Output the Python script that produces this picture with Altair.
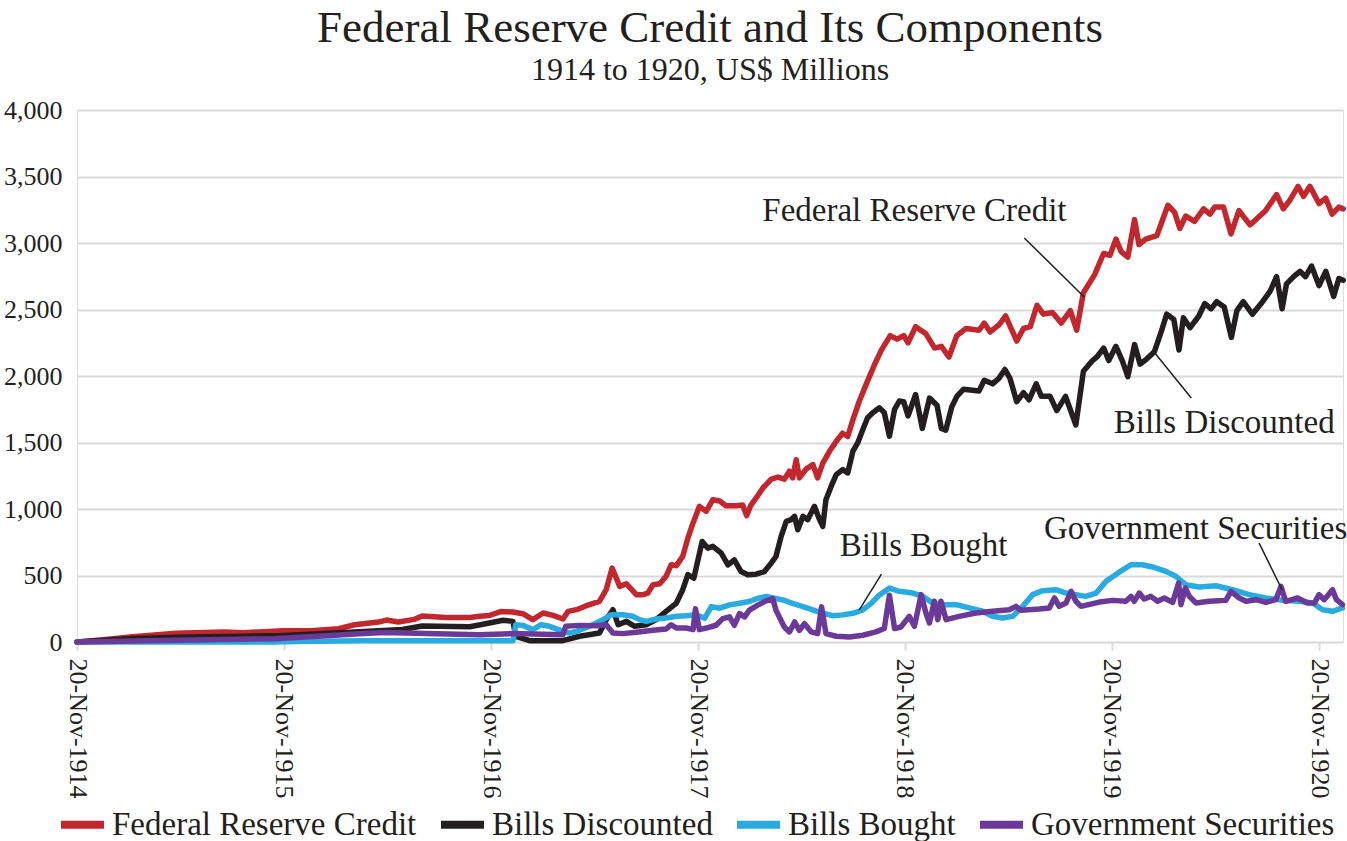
import altair as alt
import numpy as np
import pandas as pd

# x positions are weeks after 20-Nov-1914, values are US$ millions
frc_points = [
    (0, 0), (6, 15), (14, 40), (25, 65), (37, 75), (42, 70), (52, 85), (59, 85), (66, 100), (70, 130),
    (76, 150), (78, 165), (81, 150), (85, 170), (87, 195), (93, 185), (99, 185),
    (101.5, 193), (104, 200), (107, 230), (109.9, 225), (112.4, 213), (114.9, 168), (117.5, 218), (120, 200),
    (122.5, 173), (123.8, 230), (125.9, 243), (128.4, 273), (131.7, 306), (133.4, 393), (134.9, 556),
    (136.8, 418), (138.5, 438), (141, 356), (142.7, 356), (143.9, 368), (145.2, 431), (146.9, 438),
    (148.5, 494), (149.8, 581), (151.1, 574), (152.7, 644), (154, 782), (155.3, 895), (156.9, 1020),
    (158.6, 982), (160.3, 1070), (162, 1060), (163.6, 1025), (166.2, 1025), (167.8, 1030), (168.8, 950),
    (169.9, 1030), (171.2, 1083), (172.9, 1158), (175, 1224), (176.7, 1240), (178.3, 1224), (179.6, 1284),
    (180.4, 1234), (181.3, 1370), (182.1, 1234), (183.8, 1300), (185.5, 1334), (186.7, 1234), (188, 1345),
    (189.7, 1434), (191.4, 1510), (193, 1570), (194.3, 1545), (195.6, 1672), (197.2, 1810), (198.9, 1935),
    (201.1, 2089), (202.8, 2196), (205, 2304), (206.7, 2277), (208.4, 2304), (209.5, 2250), (211.4, 2371),
    (214, 2317), (216.2, 2210), (217.9, 2223), (219.8, 2143), (221.8, 2304), (224.1, 2357), (227.4, 2344),
    (228.7, 2398), (230.2, 2331), (232.4, 2384), (234.1, 2451), (235.5, 2357), (236.9, 2263), (238.6, 2357),
    (240.3, 2371), (242, 2532), (243.6, 2465), (245.9, 2478), (248.1, 2398), (250.4, 2492), (252, 2344),
    (253.7, 2626), (256.5, 2760), (258.8, 2921), (260.4, 2908), (261.9, 3029), (263.2, 2935), (264.9, 2894),
    (266.6, 3176), (267.7, 2988), (269.4, 3029), (272.2, 3055), (275, 3284), (276.7, 3230), (278, 3109),
    (279.5, 3203), (281.7, 3163), (284, 3257), (285.6, 3217), (286.8, 3270), (289, 3270), (290.9, 3069),
    (292.9, 3243), (295.7, 3136), (299.6, 3243), (302.4, 3364), (304.1, 3257), (305.8, 3324), (307.8, 3426),
    (309.2, 3351), (310.8, 3426), (313.1, 3297), (314.8, 3337), (316.4, 3217), (318.1, 3270), (319.2, 3257),
]

bd_points = [
    (0, 0), (14, 27), (25, 35), (52, 48), (70, 75), (82, 94), (87, 120), (99, 115), (103, 137),
    (107.4, 163), (109.9, 155), (110.6, 43), (114.1, 10), (122.5, 10), (126.7, 43), (131.7, 68),
    (133.4, 168), (135.1, 243), (136.4, 130), (138.5, 155), (140.6, 118), (143.5, 130), (146, 168),
    (148.5, 230), (151.1, 293), (152.7, 393), (154, 506), (155.5, 480), (157.6, 756), (159, 706),
    (160.3, 719), (162.4, 668), (164.1, 580), (165.7, 618), (167.4, 530), (169.1, 505), (171.2, 510),
    (173.3, 530), (175, 593), (176.2, 643), (177.5, 794), (178.8, 907), (180, 920), (180.9, 945),
    (181.7, 844), (183, 945), (184.2, 920), (185.9, 1020), (187.2, 920), (188, 869), (188.8, 1070),
    (190.1, 1170), (191.4, 1259), (193, 1296), (194.3, 1271), (195.6, 1435), (196.8, 1497), (198.1, 1598),
    (199.3, 1686), (200.6, 1724), (202.3, 1761), (203.5, 1724), (204.8, 1548), (206.1, 1749), (207.3, 1812),
    (208.4, 1807), (209.5, 1700), (211.4, 1861), (213.1, 1606), (214.9, 1834), (216.8, 1780), (217.9, 1606),
    (219, 1592), (220.5, 1767), (221.8, 1847), (223.5, 1901), (227.4, 1888), (228.7, 1968), (230.8, 1941),
    (232.4, 1982), (233.9, 2049), (235.2, 1982), (236.9, 1807), (238.6, 1874), (240, 1820), (241.8, 1941),
    (243.1, 1847), (245.3, 1847), (247, 1740), (249.2, 1847), (251.8, 1632), (253.7, 2035), (256, 2116),
    (257.1, 2143), (258.8, 2210), (260.1, 2116), (261.9, 2223), (263.5, 2116), (264.9, 1995), (266.6, 2237),
    (268, 2089), (269.7, 2129), (271.6, 2183), (273.3, 2331), (274.7, 2465), (276.5, 2425), (277.8, 2196),
    (278.9, 2438), (280.6, 2363), (282.8, 2451), (284.3, 2545), (285.9, 2505), (287.3, 2559), (289.2, 2519),
    (291, 2290), (292.4, 2492), (294, 2559), (296.3, 2465), (298.5, 2545), (300.8, 2639), (302.4, 2747),
    (303.8, 2505), (304.9, 2693), (306.7, 2747), (308.3, 2787), (309.7, 2747), (311.2, 2827), (313.1, 2680),
    (314.8, 2787), (316.8, 2599), (318.1, 2733), (319.2, 2720),
]

bb_points = [
    (0, 0), (50, 0), (55, 3), (72, 10), (109.9, 10), (110.6, 130), (112.4, 125), (114.9, 93), (117, 130),
    (119.1, 118), (122.5, 80), (124.2, 68), (125.9, 80), (129.2, 118), (132.6, 168), (134.7, 205),
    (137.6, 205), (140.1, 193), (141.8, 168), (143.5, 155), (146, 173), (148.5, 180), (151.1, 193),
    (153.6, 198), (156.1, 205), (158.2, 178), (159.9, 266), (162, 254), (164.5, 279), (167, 291),
    (169.5, 304), (171.6, 329), (173.7, 342), (175.8, 329), (177.9, 317), (180.4, 291), (183, 266),
    (185.5, 241), (188, 216), (190.5, 198), (193, 204), (195.6, 216), (198.1, 241), (200.2, 291),
    (202.3, 354), (204.8, 405), (207.3, 381), (210.7, 368), (213.2, 343), (215.7, 293), (218.2, 281),
    (221.6, 281), (224.9, 256), (228.3, 231), (230.8, 193), (233.3, 180), (235.9, 193), (238.4, 268),
    (240.9, 356), (243.4, 386), (246.8, 393), (249.3, 368), (251.8, 356), (254.3, 343), (256.9, 368),
    (259.4, 456), (262.7, 525), (265.7, 581), (268.6, 581), (271.1, 564), (274.5, 531), (277, 494),
    (279.5, 431), (282.9, 413), (287.1, 423), (291.3, 393), (295.5, 356), (299.7, 331), (303.9, 313),
    (308.1, 306), (311.5, 293), (314, 243), (316.5, 231), (319, 256),
]

gs_points = [
    (0, 0), (25, 13), (50, 25), (72.3, 64), (77.5, 71), (101.5, 55), (109.9, 63), (122.5, 55), (123.2, 118),
    (126.7, 125), (130.9, 122), (133.4, 130), (135.1, 68), (137.6, 63), (141, 73), (145.2, 88), (148.5, 98),
    (149.8, 130), (151.1, 105), (153.6, 105), (155.3, 93), (155.9, 250), (156.9, 93), (158.6, 105),
    (161.1, 126), (162.8, 176), (164.5, 189), (165.7, 126), (167, 214), (168.3, 189), (169.5, 239),
    (171.6, 277), (173.7, 309), (175.4, 327), (176.2, 239), (178.3, 113), (179.6, 76), (180.9, 151),
    (182.1, 88), (183.4, 138), (185.1, 76), (186.7, 63), (187.7, 264), (188.8, 63), (191.4, 43),
    (194.7, 38), (198.1, 51), (201.4, 76), (203.5, 101), (204.8, 352), (206.1, 101), (207.7, 113),
    (209.8, 193), (211.1, 118), (212.8, 356), (214, 218), (214.9, 143), (216.1, 306), (217, 168),
    (217.8, 306), (219.1, 168), (222.4, 193), (226.6, 218), (230.8, 231), (235, 243), (236.7, 268),
    (238, 238), (242.6, 248), (245.1, 256), (246.4, 331), (247.6, 268), (249.3, 293), (250.6, 381),
    (251.8, 306), (253.1, 268), (257.7, 300), (261.1, 313), (264.4, 306), (265.7, 343), (266.5, 306),
    (267.8, 368), (269, 323), (270.7, 343), (272.4, 306), (274.1, 331), (276.2, 298), (277.7, 444),
    (278.3, 281), (279.4, 406), (280.4, 343), (282.1, 293), (285.4, 306), (289.6, 313), (290.9, 381),
    (293, 331), (294.7, 306), (297.2, 318), (299.7, 298), (302.2, 318), (303.5, 418), (304.7, 306),
    (307.7, 331), (310.2, 293), (311.9, 293), (313.1, 356), (314.4, 318), (316.5, 393), (317.5, 318),
    (319, 281),
]

series_names = ["Federal Reserve Credit", "Bills Discounted", "Bills Bought", "Government Securities"]
series_colors = ["#C1272D", "#231F20", "#29ABE2", "#6B3A98"]
tick_years = [1914, 1915, 1916, 1917, 1918, 1919, 1920]

# annotation labels: text, week, value (baseline)
label_texts = ["Federal Reserve Credit", "Bills Discounted", "Bills Bought", "Government Securities"]
label_weeks = [211.1, 289.2, 213.4, 282.0]
label_values = [3165, 1575, 650, 775]
# leader lines: from (week1, value1) to (week2, value2)
leader_w1 = [238.8, 271.5, 202.8, 298.0]
leader_v1 = [3038, 2181, 511, 744]
leader_w2 = [253.9, 280.9, 197.2, 303.8]
leader_v2 = [2594, 1835, 241, 391]

START = pd.Timestamp("1914-11-20")


def week_to_date(w):
    return START + pd.to_timedelta(np.asarray(w, dtype=float) * 7, unit="D")


frames = []
for name, pts in zip(series_names, [frc_points, bd_points, bb_points, gs_points]):
    w = [p[0] for p in pts]
    v = [p[1] for p in pts]
    frames.append(pd.DataFrame({"date": week_to_date(w), "value": v, "series": name}))
lines_df = pd.concat(frames, ignore_index=True)

labels_df = pd.DataFrame({"date": week_to_date(label_weeks), "value": label_values, "text": label_texts})
leaders_df = pd.DataFrame({
    "date": week_to_date(leader_w1), "value": leader_v1,
    "date2": week_to_date(leader_w2), "value2": leader_v2,
})

FONT = "Liberation Serif"
TEXT = "#231F20"
GRID = "#D9D9D9"

x_scale = alt.Scale(domain=[alt.DateTime(year=1914, month=11, date=20), alt.DateTime(year=1921, month=1, date=1)])
y_scale = alt.Scale(domain=[0, 4000], nice=False)

x_axis = alt.Axis(
    values=[alt.DateTime(year=y, month=11, date=20) for y in tick_years],
    format="%d-%b-%Y", labelAngle=90, labelAlign="left", labelBaseline="middle",
    labelFont=FONT, labelFontSize=26, labelColor=TEXT, labelPadding=8,
    grid=False, domain=False, ticks=True, tickColor=GRID, tickWidth=2, tickSize=8,
    title=None, labelOverlap=False,
)
y_axis = alt.Axis(
    values=list(range(0, 4001, 500)), format=",.0f", labelFont=FONT, labelFontSize=26,
    labelColor=TEXT, labelPadding=15, grid=True, gridColor=GRID, gridWidth=2,
    domain=False, ticks=False, title=None,
)

lines = alt.Chart(lines_df).mark_line(strokeWidth=5.5, strokeJoin="round", strokeCap="round").encode(
    x=alt.X("date:T", scale=x_scale, axis=x_axis),
    y=alt.Y("value:Q", scale=y_scale, axis=y_axis),
    color=alt.Color(
        "series:N", sort=series_names,
        scale=alt.Scale(domain=series_names, range=series_colors),
        legend=alt.Legend(
            orient="none", legendX=-20, legendY=689, direction="horizontal", title=None,
            symbolType="stroke", symbolSize=1849, symbolStrokeWidth=8,
            labelFont=FONT, labelFontSize=33, labelColor=TEXT, labelOffset=4,
            labelLimit=500, columnPadding=8,
        ),
    ),
)

leaders = alt.Chart(leaders_df).mark_rule(color=TEXT, strokeWidth=1.5).encode(
    x=alt.X("date:T", scale=x_scale, axis=x_axis),
    x2="date2:T",
    y=alt.Y("value:Q", scale=y_scale, axis=y_axis),
    y2="value2:Q",
)

labels = alt.Chart(labels_df).mark_text(
    font=FONT, fontSize=33, color=TEXT, align="center", baseline="alphabetic"
).encode(
    x=alt.X("date:T", scale=x_scale, axis=x_axis),
    y=alt.Y("value:Q", scale=y_scale, axis=y_axis),
    text="text:N",
)

chart = alt.layer(lines, leaders, labels).properties(
    width=1266,
    height=532,
    padding={"left": 77, "top": 110, "right": 4, "bottom": 199},
    autosize=alt.AutoSizeParams(type="none"),
    title=alt.Title(
        "Federal Reserve Credit and Its Components",
        subtitle="1914 to 1920, US$ Millions",
        font=FONT, fontSize=45, fontWeight="normal", color=TEXT,
        subtitleFont=FONT, subtitleFontSize=32, subtitleColor=TEXT,
        anchor="middle", frame="group", offset=11, subtitlePadding=4,
    ),
).configure_view(stroke=None).configure(background="white")

chart.save("out.html", embed_options={"renderer": "svg", "actions": False})
